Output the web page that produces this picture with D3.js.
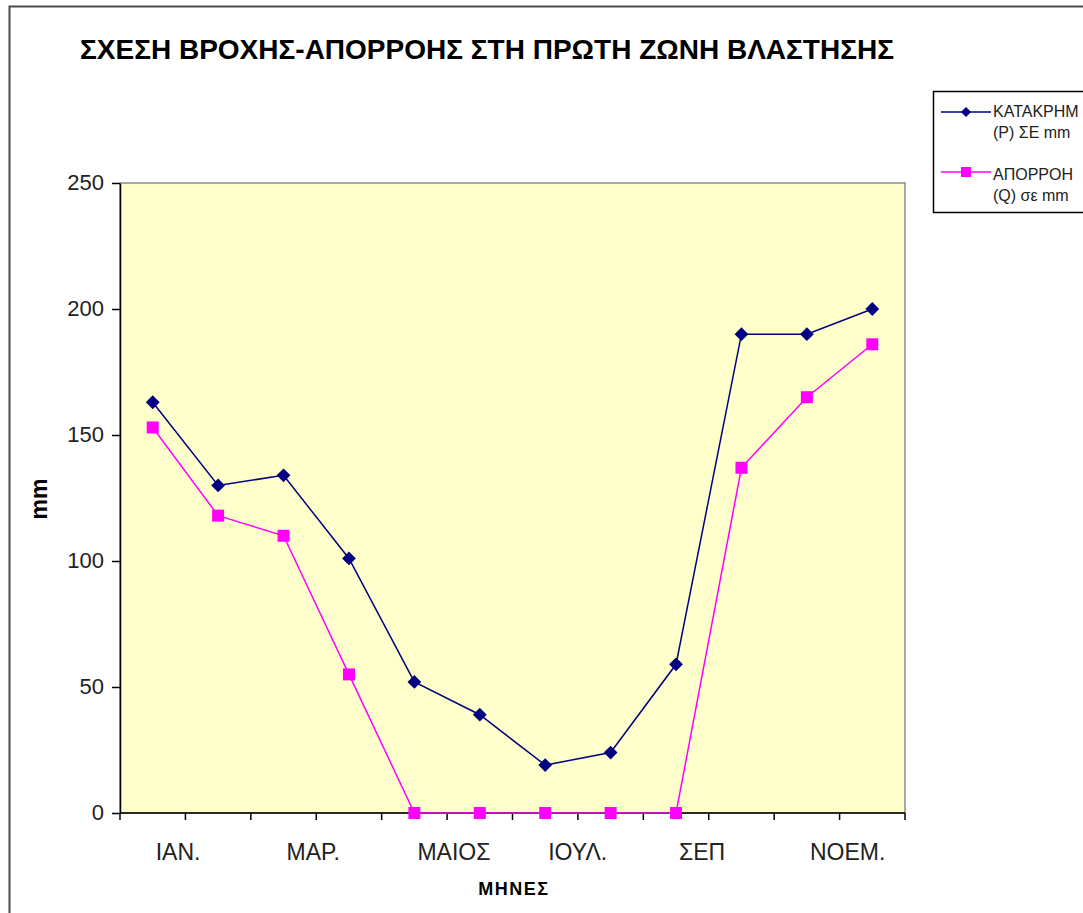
<!DOCTYPE html>
<html>
<head>
<meta charset="utf-8">
<script src="https://cdn.jsdelivr.net/npm/d3@7"></script>
<style>
  body { margin: 0; background: #fff; }
  text { font-family: "Liberation Sans", Arial, sans-serif; }
</style>
</head>
<body>
<script>
// months (only every second one gets a label, like the original)
var months = ['ΙΑΝ.', 'ΦΕΒ.', 'ΜΑΡ.', 'ΑΠΡ.', 'ΜΑΙΟΣ', 'ΙΟΥΝ.', 'ΙΟΥΛ.', 'ΑΥΓ.', 'ΣΕΠ', 'ΟΚΤ.', 'ΝΟΕΜ.', 'ΔΕΚ.'];
var rain = [163, 130, 134, 101, 52, 39, 19, 24, 59, 190, 190, 200];   // P
var runoff = [153, 118, 110, 55, 0, 0, 0, 0, 0, 137, 165, 186];      // Q
var yTicks = [0, 50, 100, 150, 200, 250];
var seriesNames = [['ΚΑΤΑΚΡΗΜ', '(P) ΣΕ mm'], ['ΑΠΟΡΡΟΗ', '(Q) σε mm']];

var W = 1083, H = 913;
var pl = 120, pr = 905, pt = 183, pb = 813;

var svg = d3.select('body').append('svg')
  .attr('width', W)
  .attr('height', H);

// chart border (runs off right/bottom edge)
svg.append('rect')
  .attr('x', 9.5).attr('y', 6.5)
  .attr('width', W + 20).attr('height', H + 20)
  .attr('fill', 'none')
  .attr('stroke', '#4a4a4a')
  .attr('stroke-width', 2);

svg.append('text')
  .attr('x', 487).attr('y', 59)
  .attr('text-anchor', 'middle')
  .attr('font-size', 28)
  .attr('font-weight', 'bold')
  .attr('fill', '#000')
  .text('ΣΧΕΣΗ ΒΡΟΧΗΣ-ΑΠΟΡΡΟΗΣ ΣΤΗ ΠΡΩΤΗ ΖΩΝΗ ΒΛΑΣΤΗΣΗΣ');

var x = d3.scaleBand().domain(months).range([pl, pr]).padding(0);
var y = d3.scaleLinear().domain([0, 250]).range([pb, pt]);

svg.append('rect')
  .attr('x', pl).attr('y', pt)
  .attr('width', pr - pl).attr('height', pb - pt)
  .attr('fill', '#ffffcc')
  .attr('stroke', '#8c8c8c')
  .attr('stroke-width', 1.5);

// y axis
var yAxis = svg.append('g')
  .attr('transform', 'translate(' + pl + ',0)')
  .call(d3.axisLeft(y).tickValues(yTicks).tickSize(8).tickSizeOuter(0));
yAxis.select('.domain').attr('stroke', '#000').attr('stroke-width', 1.5);
yAxis.selectAll('.tick line').attr('stroke', '#000').attr('stroke-width', 1.5);
yAxis.selectAll('.tick text')
  .attr('x', -16)
  .attr('dy', '0.28em')
  .attr('font-size', 22)
  .attr('fill', '#222');

// x axis: ticks at category boundaries
var xAxis = svg.append('g')
  .attr('transform', 'translate(0,' + pb + ')');
xAxis.append('line')
  .attr('x1', pl).attr('x2', pr)
  .attr('stroke', '#000').attr('stroke-width', 1.5);
var bounds = months.map(function(m) { return x(m); }).concat([pr]);
xAxis.selectAll('line.tk')
  .data(bounds)
  .enter().append('line')
  .attr('class', 'tk')
  .attr('x1', function(d) { return d; })
  .attr('x2', function(d) { return d; })
  .attr('y1', 0).attr('y2', 7)
  .attr('stroke', '#000').attr('stroke-width', 1.5);
xAxis.selectAll('text')
  .data(months.filter(function(d, i) { return i % 2 === 0; }))
  .enter().append('text')
  .attr('x', function(d) { return x(d) + x.bandwidth() / 2 + 3; })
  .attr('y', 47)
  .attr('font-size', 23)
  .attr('fill', '#222')
  .text(function(d) { return d; });

svg.append('text')
  .attr('x', 514).attr('y', 895)
  .attr('text-anchor', 'middle')
  .attr('font-size', 18)
  .attr('font-weight', 'bold')
  .attr('letter-spacing', 1.5)
  .text('ΜΗΝΕΣ');

svg.append('text')
  .attr('transform', 'translate(47,499) rotate(-90)')
  .attr('text-anchor', 'middle')
  .attr('font-size', 23)
  .attr('font-weight', 'bold')
  .text('mm');

var cx = function(d, i) { return x(months[i]) + x.bandwidth() / 2; };
var line = d3.line().x(cx).y(function(d) { return y(d); });

svg.append('path')
  .datum(rain)
  .attr('d', line)
  .attr('fill', 'none')
  .attr('stroke', '#000080')
  .attr('stroke-width', 1.5);

svg.append('path')
  .datum(runoff)
  .attr('d', line)
  .attr('fill', 'none')
  .attr('stroke', '#ff00ff')
  .attr('stroke-width', 1.5);

// diamond = square turned 45 degrees
var diamond = d3.symbol().type(d3.symbolSquare).size(95);

svg.selectAll('path.rainpt')
  .data(rain)
  .enter().append('path')
  .attr('class', 'rainpt')
  .attr('d', diamond)
  .attr('transform', function(d, i) { return 'translate(' + cx(d, i) + ',' + y(d) + ') rotate(45)'; })
  .attr('fill', '#000080');

svg.selectAll('rect.runpt')
  .data(runoff)
  .enter().append('rect')
  .attr('class', 'runpt')
  .attr('x', function(d, i) { return cx(d, i) - 6; })
  .attr('y', function(d) { return y(d) - 6; })
  .attr('width', 12).attr('height', 12)
  .attr('fill', '#ff00ff');

// legend
var legend = svg.append('g');
legend.append('rect')
  .attr('x', 933.5).attr('y', 91.5)
  .attr('width', 160).attr('height', 121)
  .attr('fill', '#fff')
  .attr('stroke', '#000')
  .attr('stroke-width', 1.5);

var lg = legend.selectAll('g.item')
  .data(seriesNames)
  .enter().append('g')
  .attr('class', 'item')
  .attr('transform', function(d, i) { return 'translate(0,' + (112 + i * 60) + ')'; });

lg.append('line')
  .attr('x1', 941).attr('x2', 991)
  .attr('stroke', function(d, i) { return i ? '#ff00ff' : '#000080'; })
  .attr('stroke-width', 1.5);
lg.each(function(d, i) {
  var g = d3.select(this);
  if (i === 0) {
    g.append('path').attr('d', d3.symbol().type(d3.symbolSquare).size(50))
      .attr('transform', 'translate(966,0) rotate(45)').attr('fill', '#000080');
  } else {
    g.append('rect').attr('x', 961).attr('y', -5).attr('width', 10).attr('height', 10)
      .attr('fill', '#ff00ff');
  }
});
lg.append('text')
  .attr('x', 993).attr('y', function(d, i) { return 5 + i * 3; })
  .attr('font-size', 16)
  .attr('fill', '#222')
  .text(function(d) { return d[0]; });
lg.append('text')
  .attr('x', 993).attr('y', function(d, i) { return 26 + i * 3; })
  .attr('font-size', 16)
  .attr('fill', '#222')
  .text(function(d) { return d[1]; });
</script>
</body>
</html>
